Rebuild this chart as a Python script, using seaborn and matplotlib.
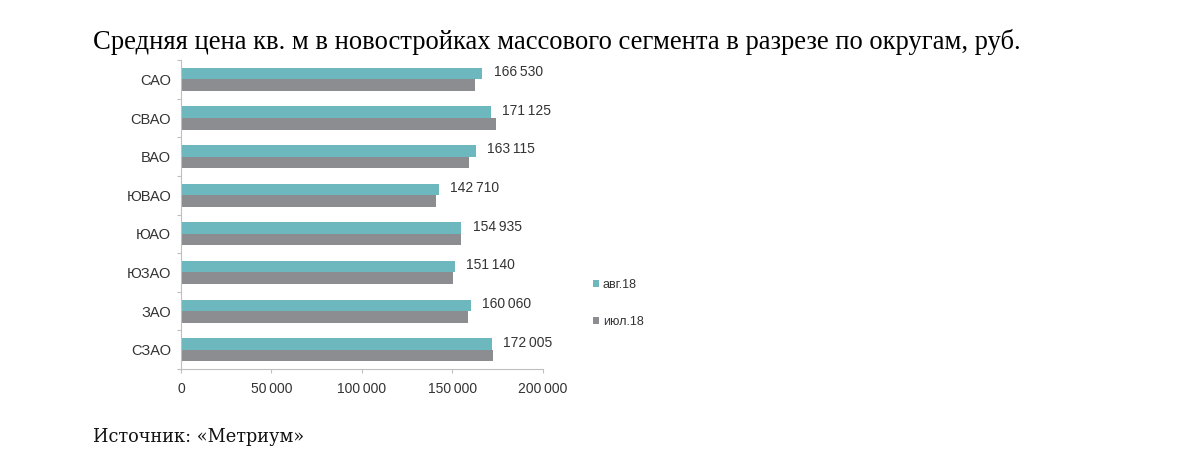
import pandas as pd
import numpy as np
import seaborn as sns
import matplotlib.pyplot as plt
from matplotlib.patches import Patch

# Data
districts = ['САО', 'СВАО', 'ВАО', 'ЮВАО', 'ЮАО', 'ЮЗАО', 'ЗАО', 'СЗАО']
aug_18 = [166530, 171125, 163115, 142710, 154935, 151140, 160060, 172005]
jul_18 = [162700, 174300, 159300, 141000, 154600, 150500, 158600, 172500]
series = ['авг.18', 'июл.18']

df = pd.DataFrame({
    'district': districts * 2,
    'price': aug_18 + jul_18,
    'period': [series[0]] * len(districts) + [series[1]] * len(districts),
})

sns.set_style('white')
plt.rcParams['font.family'] = ['Liberation Sans', 'DejaVu Sans']

palette = {'авг.18': '#6cb8be', 'июл.18': '#8b8d90'}


def fmt(v):
    # thousands separated by a narrow space
    return f'{v:,}'.replace(',', '\u2009')


fig = plt.figure(figsize=(12, 4.68), dpi=100)
ax = fig.add_axes([0.1508, 0.2115, 0.3017, 0.66])

sns.barplot(data=df, y='district', x='price', hue='period', order=districts,
            hue_order=series, palette=palette, orient='h', width=0.6, gap=0,
            linewidth=0, saturation=1, legend=False, ax=ax)

ax.set_xlim(0, 200000)
ticks = list(range(0, 200001, 50000))
ax.set_xticks(ticks)
ax.set_xticklabels([fmt(v) for v in ticks])
ax.set_xlabel('')
ax.set_ylabel('')

# small ticks between categories on the y axis
ax.set_yticks(np.arange(len(districts)))
ax.set_yticks(np.arange(len(districts) + 1) - 0.5, minor=True)
ax.tick_params(axis='y', which='major', length=0, pad=7, labelsize=10.5, labelcolor='#333333')
ax.tick_params(axis='y', which='minor', length=3, color='#bfbfbf', width=0.8, left=True)
ax.tick_params(axis='x', which='major', length=3, color='#bfbfbf', width=0.8, bottom=True,
               labelsize=10, labelcolor='#333333', pad=6)

for side in ['top', 'right']:
    ax.spines[side].set_visible(False)
for side in ['left', 'bottom']:
    ax.spines[side].set_color('#bfbfbf')
    ax.spines[side].set_linewidth(0.8)

# value labels for aug bars
aug_bars = ax.containers[0]
for bar, val in zip(aug_bars, aug_18):
    ax.annotate(fmt(val),
                xy=(bar.get_width(), bar.get_y() + bar.get_height() / 2),
                xytext=(8, 1), textcoords='offset points',
                ha='left', va='center', fontsize=10, color='#333333')

handles = [Patch(facecolor=palette[s], edgecolor='none') for s in series]
fig.legend(handles, series, loc='center left', bbox_to_anchor=(0.485, 0.352),
           frameon=False, fontsize=9, handlelength=0.45, handleheight=0.45,
           handletextpad=0.3, labelspacing=2.0, labelcolor='#333333')

fig.text(0.0775, 0.91, 'Средняя цена кв. м в новостройках массового сегмента в разрезе по округам, руб.',
         fontsize=19.2, family='Liberation Serif', color='black', va='center')
fig.text(0.0775, 0.066, 'Источник: «Метриум»', fontsize=12.8, family='DejaVu Serif',
         color='#111111', va='center')

fig.savefig('out.png', dpi=100, facecolor='white')
